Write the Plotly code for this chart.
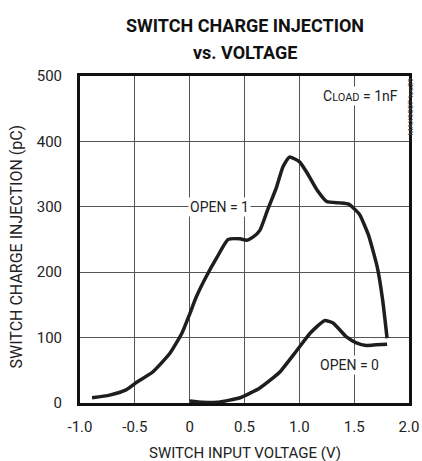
import plotly.graph_objects as go

# OPEN = 1 curve
x_open1 = [-0.89, -0.73, -0.58, -0.48, -0.34, -0.18, -0.07, 0.0, 0.06, 0.15, 0.25, 0.35, 0.46, 0.52,
           0.58, 0.64, 0.71, 0.79, 0.85, 0.91, 1.00, 1.07, 1.16, 1.25, 1.37, 1.45, 1.50, 1.55, 1.63, 1.71,
           1.76, 1.80]
y_open1 = [8, 12, 20, 32, 47, 76, 107, 136, 162, 193, 223, 250, 251, 249,
           254, 264, 295, 329, 361, 376, 369, 352, 326, 308, 306, 304, 297, 288, 257, 208,
           157, 99]

# OPEN = 0 curve
x_open0 = [0.0, 0.12, 0.25, 0.46, 0.64, 0.82, 0.98, 1.10, 1.23, 1.31, 1.43, 1.52, 1.61, 1.70, 1.80]
y_open0 = [3, 1, 1, 8, 23, 47, 81, 107, 126, 122, 101, 92, 88, 89, 90]

x_ticks = [-1.0, -0.5, 0, 0.5, 1.0, 1.5, 2.0]
x_tick_labels = ["-1.0", "-0.5", "0", "0.5", "1.0", "1.5", "2.0"]
y_ticks = [0, 100, 200, 300, 400, 500]

FONT = "Roboto, DejaVu Sans Condensed, sans-serif"
LINE = "#1e1e1e"

fig = go.Figure()
fig.add_trace(go.Scatter(x=x_open1, y=y_open1, mode="lines",
                         line=dict(color=LINE, width=3.5, shape="spline", smoothing=0.5),
                         showlegend=False, hoverinfo="skip"))
fig.add_trace(go.Scatter(x=x_open0, y=y_open0, mode="lines",
                         line=dict(color=LINE, width=3.5, shape="spline", smoothing=0.5),
                         showlegend=False, hoverinfo="skip"))

fig.update_layout(
    width=422, height=461,
    margin=dict(l=80, r=13, t=76, b=58),
    paper_bgcolor="white", plot_bgcolor="white",
    font=dict(family=FONT, size=14, color="#222"),
    hovermode=False,
    xaxis=dict(range=[-1.0, 2.0], tickvals=x_ticks, ticktext=x_tick_labels,
               showgrid=True, gridcolor="#555", gridwidth=1,
               showline=True, linecolor="#111", linewidth=3, mirror=True,
               ticks="", zeroline=False, automargin=False, ticklabelstandoff=8,
               tickfont=dict(family=FONT, size=15)),
    yaxis=dict(range=[0, 500], tickvals=y_ticks,
               showgrid=True, gridcolor="#555", gridwidth=1,
               showline=True, linecolor="#111", linewidth=3, mirror=True,
               ticks="", zeroline=False, automargin=False, ticklabelstandoff=12,
               tickfont=dict(family=FONT, size=15)),
)

# title as two annotation lines
fig.add_annotation(xref="paper", yref="paper", x=0.5, y=1.0, yshift=51, yanchor="middle",
                   text="<b>SWITCH CHARGE INJECTION</b>", showarrow=False,
                   font=dict(family=FONT, size=18, color="#111"))
fig.add_annotation(xref="paper", yref="paper", x=0.5, y=1.0, yshift=24, yanchor="middle",
                   text="<b>vs. VOLTAGE</b>", showarrow=False,
                   font=dict(family=FONT, size=18, color="#111"))

# axis titles
fig.add_annotation(xref="paper", yref="paper", x=0.5, y=0.0, yshift=-50, yanchor="middle",
                   text="SWITCH INPUT VOLTAGE (V)", showarrow=False,
                   font=dict(family=FONT, size=15))
fig.add_annotation(xref="paper", yref="paper", x=0.0, xshift=-64, y=0.5, yshift=-7,
                   xanchor="center", yanchor="middle", textangle=-90,
                   text="SWITCH CHARGE INJECTION (pC)", showarrow=False,
                   font=dict(family=FONT, size=16))

fig.add_annotation(x=0.27, y=300, text="OPEN = 1", showarrow=False,
                   bgcolor="white", borderpad=1, font=dict(family=FONT, size=14))
fig.add_annotation(x=1.46, y=58, text="OPEN = 0", showarrow=False,
                   bgcolor="white", borderpad=1, font=dict(family=FONT, size=14))
fig.add_annotation(x=1.92, y=470, xanchor="right", text="C<span style='font-size:11px'>LOAD</span> = 1nF",
                   showarrow=False, bgcolor="white", borderpad=1, font=dict(family=FONT, size=14))
fig.add_annotation(xref="paper", yref="paper", x=1.0, xshift=7, y=1.0, yanchor="top",
                   text="MAX9507 toc29", textangle=-90, showarrow=False,
                   font=dict(family=FONT, size=8, color="#444"))

fig.write_html("out.html", config={"displayModeBar": False},
               post_script="document.body.style.margin='0';document.body.style.overflow='hidden';")
